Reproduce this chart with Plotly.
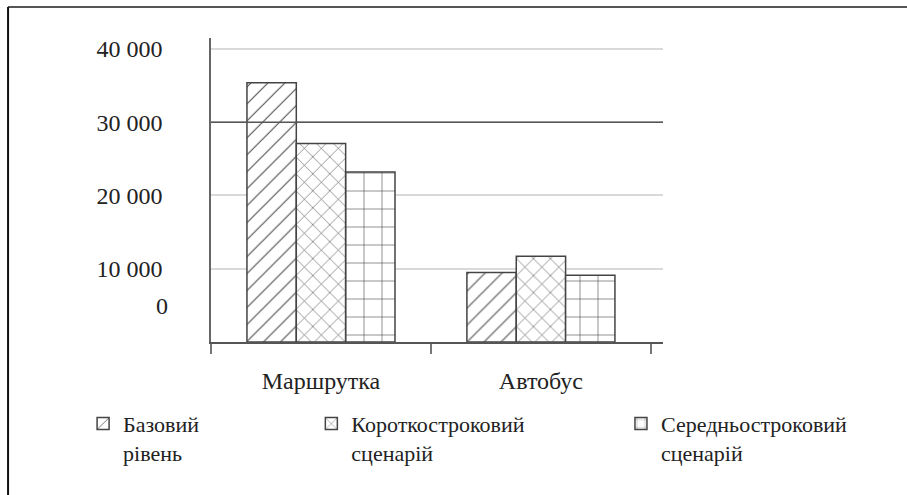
import plotly.graph_objects as go

categories = ["Маршрутка", "Автобус"]
series_names = ["Базовий<br>рівень", "Короткостроковий<br>сценарій", "Середньостроковий<br>сценарій"]
base_vals = [35400, 9500]
short_vals = [27100, 11700]
mid_vals = [23200, 9100]
y_tick_vals = [10000, 20000, 30000, 40000]
y_tick_text = ["10 000", "20 000", "30 000", "40 000"]
zero_label_pos = [5000]
zero_label_text = ["0"]

FONT = "Liberation Serif, Times New Roman, DejaVu Serif, serif"
series = [base_vals, short_vals, mid_vals]
shapes_pat = ["/", "x", "+"]
pat_sizes = [12, 12, 18]
pat_solid = [0.1, 0.1, 0.07]
legend_ids = ["legend", "legend2", "legend3"]

fig = go.Figure()
for name, vals, sh, ps, so, lg in zip(series_names, series, shapes_pat, pat_sizes, pat_solid, legend_ids):
    fig.add_trace(go.Bar(
        x=categories, y=vals, name=name, legend=lg,
        marker=dict(color="white",
                    line=dict(color="#444", width=1.5),
                    pattern=dict(shape=sh, fgcolor="#555", fgopacity=1, bgcolor="white",
                                 size=ps, solidity=so)),
    ))

# invisible trace to carry overlay axis for "0" label
fig.add_trace(go.Scatter(x=[categories[0]], y=[0], yaxis="y2", mode="markers",
                         marker=dict(opacity=0), showlegend=False, hoverinfo="skip"))

YMAX = 41500
TF = dict(family=FONT, size=24, color="#222")
LF = dict(family=FONT, size=22, color="#222")
LY = -0.20
fig.update_layout(
    width=907, height=495,
    margin=dict(l=211, r=244, t=38, b=153),
    paper_bgcolor="white", plot_bgcolor="white",
    barmode="group", bargap=0.327, bargroupgap=0,
    font=dict(family=FONT, size=22, color="#222"),
    xaxis=dict(range=[-0.5, 1.555], showline=True, linecolor="#555", linewidth=1.5,
               ticks="outside", tickson="boundaries", ticklen=10, tickcolor="#777",
               tickwidth=1.5, showgrid=False, tickfont=TF,
               ticklabelstandoff=16),
    yaxis=dict(range=[0, YMAX], tickvals=y_tick_vals, ticktext=y_tick_text,
               showline=True, linecolor="#666", linewidth=1.5,
               gridcolor="#d9d9d9", gridwidth=1.5, zeroline=False,
               ticks="", ticklabelstandoff=42, tickfont=TF),
    yaxis2=dict(range=[0, YMAX], overlaying="y", side="left", tickvals=zero_label_pos,
                ticktext=zero_label_text, showgrid=False, showline=False, zeroline=False,
                ticks="", ticklabelstandoff=42, tickfont=TF),
    legend=dict(x=-0.283, y=LY, xanchor="left", yanchor="top", valign="top",
                font=LF, bgcolor="rgba(0,0,0,0)"),
    legend2=dict(x=0.222, y=LY, xanchor="left", yanchor="top", valign="top",
                 font=LF, bgcolor="rgba(0,0,0,0)"),
    legend3=dict(x=0.907, y=LY, xanchor="left", yanchor="top", valign="top",
                 font=LF, bgcolor="rgba(0,0,0,0)"),
    shapes=[
        dict(type="line", xref="paper", yref="y", x0=0, x1=1, y0=30000, y1=30000,
             line=dict(color="#555", width=1.5), layer="above"),
        dict(type="line", xref="paper", yref="y", x0=0, x1=1, y0=40000, y1=40000,
             line=dict(color="#aaa", width=1.5), layer="below"),
        dict(type="line", xref="paper", yref="paper", x0=-0.449, x1=1.6, y0=1.102, y1=1.102,
             line=dict(color="#555", width=2)),
        dict(type="line", xref="paper", yref="paper", x0=-0.449, x1=-0.449, y0=1.102, y1=-0.6,
             line=dict(color="#111", width=2)),
    ],
)

fig.write_html("out.html", config={"displayModeBar": False},
               post_script="document.body.style.margin='0';")
